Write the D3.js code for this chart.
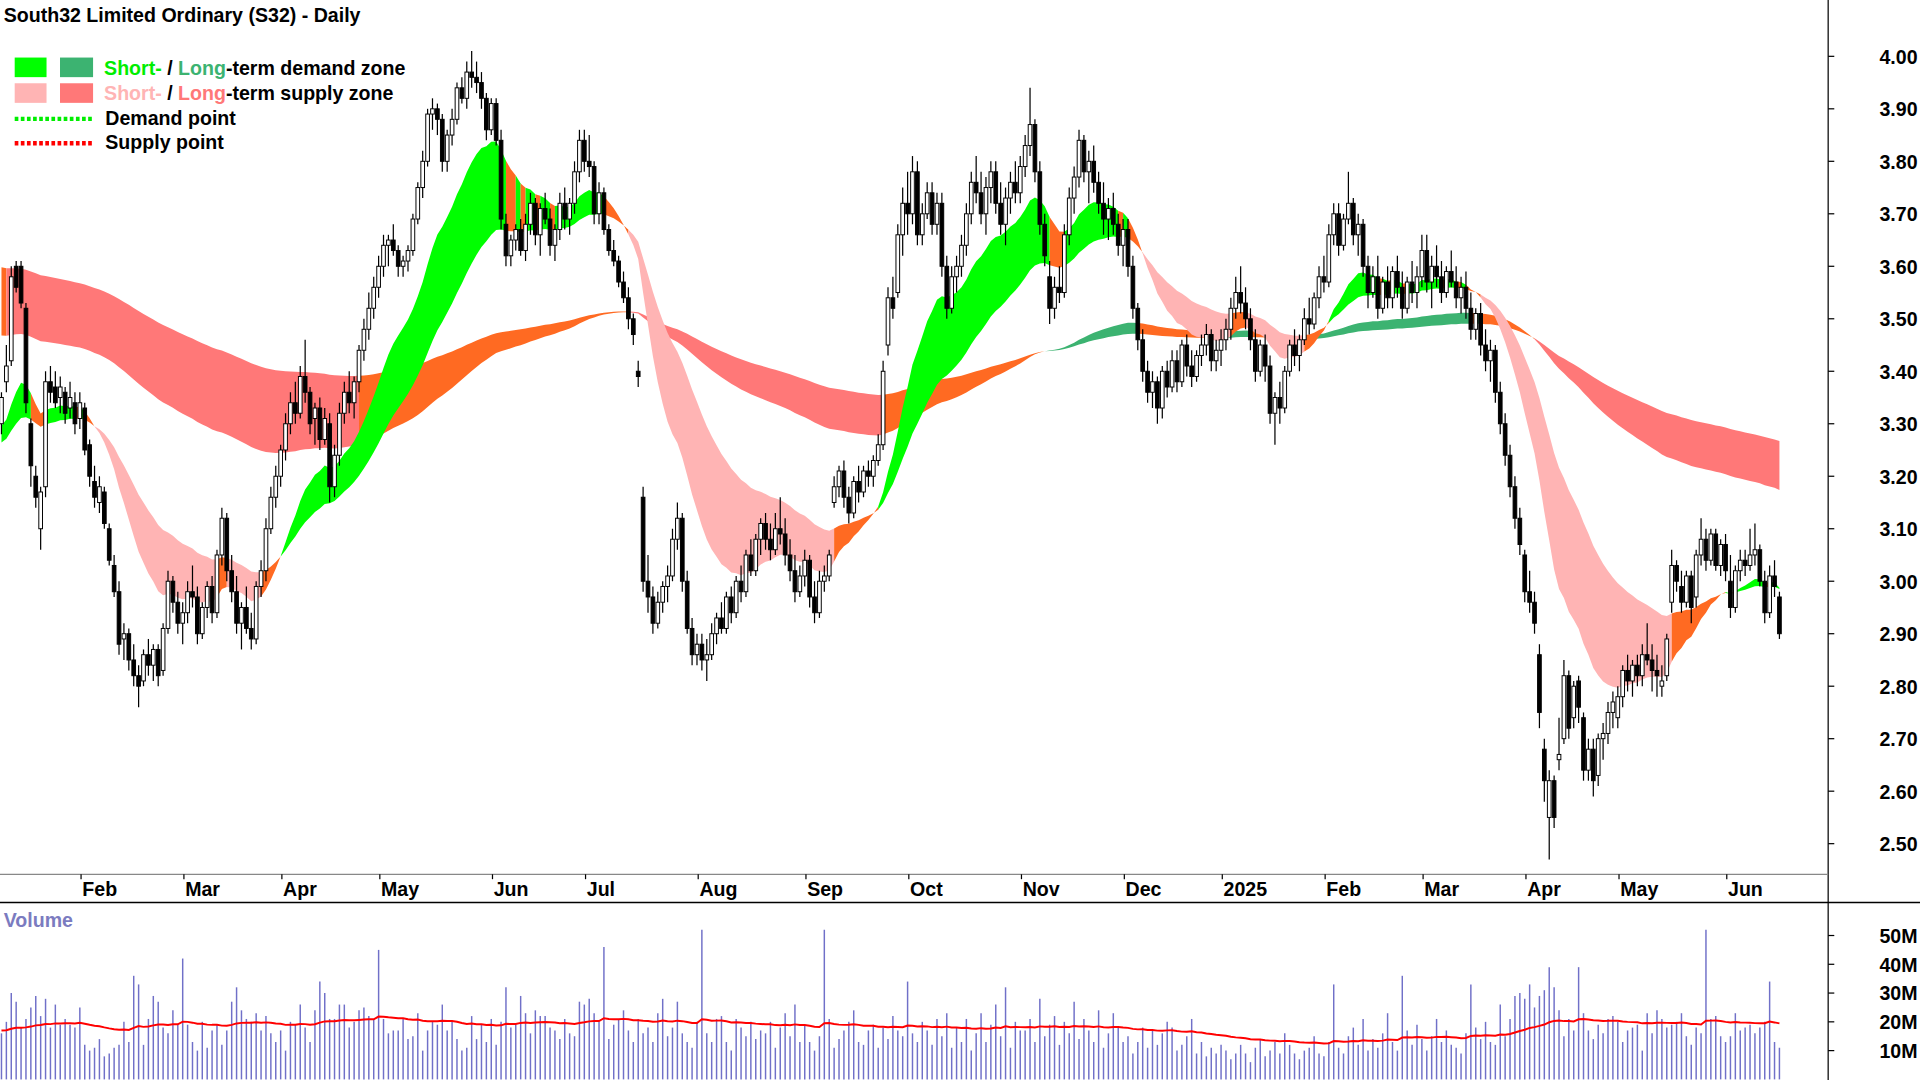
<!DOCTYPE html>
<html><head><meta charset="utf-8">
<script src="https://cdn.jsdelivr.net/npm/d3@7"></script>
<style>body{margin:0;background:#fff}svg{display:block}text{font-family:"Liberation Sans",Arial,sans-serif;font-weight:bold}</style>
</head><body><svg id="chart" width="1920" height="1080" viewBox="0 0 1568 882"></svg>
<script>
// OHLC in cents, one string per trading month
const months = [
  {y:2024,m:0, c:"330 336 328 335|338 345 336 341|342 360 341 358|360 361 355 356|360 361 352 353|352 353 332 334|330 331 318 322|320 322 314 316|310 318 306 317|318 340 316 338|338 341 334 336|337 340 333 334|335 339 332 337|336 337 330 332|333 338 331 335|334 336 328 330|331 336 329 334"},
  {y:2024,m:1, c:"333 334 324 325|326 327 318 320|319 322 314 316|315 320 313 318|317 318 310 311|310 311 303 304|303 305 297 298|298 300 286 288|289 292 285 290|290 291 283 285|285 288 280 282|282 284 276 280|281 287 280 286|286 289 282 284|284 288 281 287|287 288 280 282|283 292 282 291|291 302 290 300|300 301 294 296|296 298 290 292|292 296 288 294"},
  {y:2024,m:2, c:"294 300 292 298|298 303 295 297|297 299 288 290|290 296 289 295|295 300 293 299|299 301 292 294|294 306 293 305|305 314 303 312|312 313 300 302|302 305 296 298|298 301 290 292|292 296 287 295|295 299 290 291|291 294 287 289|289 300 288 299|299 304 297 302|302 312 300 310|310 318 309 316|316 322 314 320|320 326 318 325"},
  {y:2024,m:3, c:"325 332 323 330|330 336 328 334|334 338 330 332|332 341 331 339|339 346 334 336|336 337 328 330|331 334 326 333|333 335 325 327|327 333 326 331|330 332 315 318|318 326 316 324|324 334 322 332|332 338 330 336|336 340 332 334|334 339 331 338|338 345 336 344|344 350 342 348|348 355 346 352|352 358 350 356|356 362 354 360"},
  {y:2024,m:4, c:"360 366 358 364|364 366 360 365|365 368 362 363|363 364 358 360|360 362 358 361|361 364 359 363|363 370 362 369|369 376 368 375|375 382 373 380|380 390 379 389|389 392 386 390|390 391 385 388|388 389 378 380|380 386 378 385|385 390 383 388|388 395 387 394|394 396 391 392|392 399 390 397|397 401 394 396|396 399 393 395|395 397 390 392|392 393 384 386|386 392 385 391"},
  {y:2024,m:5, c:"391 392 383 384|384 386 367 369|368 370 360 362|362 366 360 365|365 368 363 367|367 369 362 363|363 370 361 368|368 374 366 372|372 373 364 366|366 372 362 371|371 374 368 369|369 371 362 364|364 368 361 367|367 374 365 372|372 375 367 369|369 373 366 372|372 380 370 378|378 386 376 384|384 386 378 380"},
  {y:2024,m:6, c:"380 385 377 379|379 380 368 370|370 376 368 374|374 375 366 367|367 368 362 363|363 365 360 361|361 362 356 357|357 359 353 354|354 356 348 350|350 351 345 347|340 342 337 339|316 318 298 300|300 305 294 297|297 299 290 292|292 298 291 296|296 300 294 299|299 303 296 301|301 310 300 308|308 315 306 312|312 313 298 300|300 302 290 291|291 293 284 286|286 290 284 288"},
  {y:2024,m:7, c:"288 290 283 285|285 289 281 286|286 292 285 290|290 294 288 293|293 296 290 291|291 298 290 297|297 299 292 294|294 301 293 300|300 303 296 298|298 306 297 305|305 308 301 302|302 309 301 308|308 312 305 311|311 313 306 308|308 311 304 306|306 313 305 310|310 316 307 309|309 312 303 305|305 308 300 302|302 305 296 298|298 303 297 301|301 306 299 304"},
  {y:2024,m:8, c:"304 305 295 297|297 300 292 294|294 302 293 300|300 303 298 301|301 306 300 305|315 320 314 318|318 322 316 321|321 323 314 316|316 318 311 313|313 320 312 319|319 322 315 317|317 322 316 321|321 323 318 320|320 324 318 323|323 328 322 326|326 342 325 340|345 356 343 354|354 358 350 352|355 368 354 366|366 375 362 372|372 378 366 370"},
  {y:2024,m:9, c:"370 381 368 378|378 380 364 366|366 372 364 370|370 376 369 374|374 376 366 368|368 374 366 372|372 374 358 360|360 362 350 352|352 360 351 358|358 362 355 360|360 366 358 364|364 372 362 370|370 378 368 376|376 381 372 374|374 378 368 370|370 377 366 375|375 380 372 378|378 380 370 372|372 376 366 368|368 375 364 373|373 378 370 376|376 380 372 374|374 381 372 379"},
  {y:2024,m:10, c:"379 385 377 383|383 394 381 387|387 388 376 378|378 380 366 368|368 370 360 362|358 361 349 352|352 358 350 356|356 360 353 355|355 368 354 366|366 375 364 373|373 379 370 377|377 386 375 384|384 385 376 378|378 382 372 380|380 383 374 376|376 378 370 372|372 376 366 369|369 373 365 371|371 374 366 368|368 370 362 364|364 369 360 367"},
  {y:2024,m:11, c:"367 369 358 360|360 362 350 352|352 353 344 346|346 348 338 340|340 342 334 336|336 340 333 338|338 339 330 333|333 341 331 340|340 342 335 337|337 344 336 342|342 344 336 338|338 346 337 345|345 347 339 341|341 344 337 339|339 344 338 343|343 347 341 345|345 349 343 347|347 348 340 342|342 346 340 344|344 348 341 346"},
  {y:2025,m:0, c:"346 350 344 348|348 354 346 352|352 358 350 355|355 360 351 353|353 356 348 350|350 352 344 346|346 348 338 340|340 346 339 345|345 347 338 341|341 343 330 332|332 336 326 335|335 338 330 333|333 341 332 340|340 346 339 345|345 348 341 343|343 347 340 346|346 352 345 350|350 354 347 349|349 355 348 354|354 360 352 358|358 362 355 357"},
  {y:2025,m:1, c:"357 368 356 366|366 372 364 370|370 372 362 364|364 370 363 369|369 378 368 372|372 373 364 366|366 370 362 368|368 369 358 360|360 362 352 355|355 360 354 358|358 362 350 352|352 358 351 357|357 360 352 354|354 360 352 359|359 362 354 356|356 359 350 352|352 358 351 357|357 361 353 355|355 360 352 358|358 366 356 363"},
  {y:2025,m:2, c:"363 366 355 357|357 362 352 360|360 364 356 358|358 361 353 355|355 360 354 359|359 363 356 357|357 360 352 354|354 358 351 356|356 359 350 352|352 355 346 348|348 352 346 351|351 353 343 345|345 348 340 342|342 346 338 344|344 345 334 336|336 338 328 330|330 332 322 324|324 326 316 318|318 320 310 312|312 314 305 307|305 306 296 298"},
  {y:2025,m:3, c:"298 302 294 296|296 298 290 292|286 288 272 275|268 270 258 262|255 264 247 262|262 263 253 255|266 274 264 267|270 285 269 282|282 283 270 272|274 281 272 280|281 282 273 276|274 275 262 264|264 270 262 268|268 270 259 262|263 271 261 270|270 273 266 271|271 277 269 275|275 279 272 277|274 280 272 278"},
  {y:2025,m:4, c:"278 284 276 283|283 286 279 281|281 285 278 284|284 286 280 282|282 288 280 286|286 292 284 285|285 288 279 283|283 286 278 282|280 284 278 281|282 290 281 289|296 306 294 303|303 304 298 300|299 302 294 296|296 302 295 301|301 302 292 295|297 306 295 305|305 312 303 308|308 310 302 304|304 310 303 309|309 310 302 303|303 308 301 307|307 309 300 302"},
  {y:2025,m:5, c:"300 305 293 295|295 303 294 302|302 306 300 304|304 306 301 303|303 310 302 305|305 311 303 306|306 307 299 300|300 302 292 294|294 303 293 301|301 304 297 299|297 298 289 290"}
];
// daily volume in millions, per month
const volumes = [
  [16,20,30,27,18,21,25,29,22,28,18,26,19,21,19,18,25],
  [12,10,11,14,8,9,11,12,20,13,36,33,12,21,29,27,18,16,24,19,42],
  [19,13,10,20,11,17,19,12,17,27,32,24,21,20,23,17,22,16,13,17],
  [10,20,19,26,18,13,24,34,30,21,21,26,26,18,20,24,25,22,21,45],
  [21,16,17,17,21,14,15,23,10,17,20,19,26,17,20,14,10,11,22,14,19,13,21],
  [12,20,32,18,19,29,23,16,24,22,22,18,17,14,21,16,15,27,26],
  [28,23,20,46,14,19,21,24,17,13,21,16,18,13,23,28,15,18,27,16,13,11,20],
  [52,16,13,21,22,13,10,21,18,15,20,14,17,16,20,11,18,23,15,26,13,19],
  [13,10,15,52,21,11,14,17,20,24,13,12,17,19,11,18,14,22,17,15,34],
  [16,13,20,17,12,21,15,23,11,18,13,21,10,16,23,13,19,26,15,32,11,20,17],
  [17,21,13,28,15,19,22,12,20,16,27,14,21,17,13,24,11,16,23,18,13],
  [15,9,13,18,11,17,12,16,20,18,10,12,15,21,9,13,8,11,9,12],
  [10,7,9,12,9,6,11,14,8,10,13,9,16,12,9,7,10,11,15,9,8],
  [13,33,11,9,15,18,12,21,10,14,11,16,23,13,10,36,17,12,19,14],
  [10,15,21,13,17,12,11,9,16,33,18,14,20,13,12,26,15,21,29,30,28],
  [33,25,29,31,39,32,24,15,21,17,39,23,17,14,19,16,21,22,20],
  [13,17,18,19,10,23,16,24,21,18,19,20,23,15,12,18,16,52,21,22,15,13],
  [15,23,17,18,19,16,18,20,34,13,11]
];
const priceTicks = [2.5,2.6,2.7,2.8,2.9,3.0,3.1,3.2,3.3,3.4,3.5,3.6,3.7,3.8,3.9,4.0];
const volTicks = [10,20,30,40,50];
const monthNames = ["Jan","Feb","Mar","Apr","May","Jun","Jul","Aug","Sep","Oct","Nov","Dec"];

// build bars
let bars = [], monthStarts = [];
months.forEach((mo, mi) => {
  monthStarts.push({i: bars.length, label: mo.m === 0 && mo.y === 2025 ? "2025" : monthNames[mo.m], first: mi === 0});
  mo.c.split("|").forEach((s, k) => {
    const [o,h,l,c] = s.split(" ").map(v => +v / 100);
    bars.push({o, h, l, c, v: volumes[mi][k] || 12});
  });
});
const closes = bars.map(d => d.c);

function ema(vals, n, seed) {
  const k = 2 / (n + 1); let e = seed;
  return vals.map(v => e = e + k * (v - e));
}
const sF = ema(closes, 18, 3.29), sS = ema(closes, 40, 3.26);
const lF = ema(closes, 140, 3.47), lS = ema(closes, 240, 3.60);
const vMA = ema(bars.map(d => d.v), 50, 17);

const svg = d3.select("#chart");
const W = 1493;
const x = d3.scaleLinear().domain([0, 1]).range([1.2, 5.2]);
const y = d3.scaleLinear().domain([2.5, 4.0]).range([689, 46]);
const yv = d3.scaleLinear().domain([0, 50]).range([881.5, 764]);

// bands
function bandColor(f, s, i, up, down, mid) {
  const j = Math.max(i - 1, 0);
  const isUp = f[i] > s[i], sRise = s[i] >= s[j];
  if (isUp && sRise) return up;
  if (!isUp && !sRise) return down;
  return mid;
}
function drawBand(f, s, up, down, mid) {
  const cols = bars.map((d, i) => bandColor(f, s, i, up, down, mid));
  const area = d3.area().x(i => x(i)).y0(i => y(f[i])).y1(i => y(s[i]));
  let start = 0;
  for (let i = 1; i <= bars.length; i++) {
    if (i === bars.length || cols[i] !== cols[start]) {
      const idx = d3.range(start, Math.min(i + 1, bars.length));
      svg.append("path").attr("d", area(idx)).attr("fill", cols[start]);
      start = i;
    }
  }
}
drawBand(lF, lS, "#3cb371", "#ff7878", "#ff6a22");
drawBand(sF, sS, "#00ff00", "#ffb4b4", "#ff6a22");

// candles
const cg = svg.append("g");
cg.selectAll("line").data(bars).join("line")
  .attr("x1", (d, i) => x(i)).attr("x2", (d, i) => x(i))
  .attr("y1", d => y(d.h)).attr("y2", d => y(d.l))
  .attr("stroke", "#000").attr("stroke-width", 1);
cg.selectAll("rect").data(bars).join("rect")
  .attr("x", (d, i) => x(i) - 1.5).attr("width", 3)
  .attr("y", d => y(Math.max(d.o, d.c)))
  .attr("height", d => Math.max(0.8, Math.abs(y(d.o) - y(d.c))))
  .attr("fill", d => d.c >= d.o ? "#fff" : "#000")
  .attr("stroke", "#000").attr("stroke-width", 0.8);

// volume
svg.append("g").selectAll("line").data(bars).join("line")
  .attr("x1", (d, i) => x(i)).attr("x2", (d, i) => x(i))
  .attr("y1", yv(0)).attr("y2", d => yv(d.v))
  .attr("stroke", "#7070c8").attr("stroke-width", 1.2);
svg.append("path").datum(vMA)
  .attr("d", d3.line().x((d, i) => x(i)).y(d => yv(d)))
  .attr("fill", "none").attr("stroke", "#ff0000").attr("stroke-width", 1.6);
svg.append("text").attr("x", 3).attr("y", 757).attr("fill", "#7b7bc0").attr("font-size", 16).text("Volume");

// frame
svg.append("line").attr("x1", W).attr("x2", W).attr("y1", 0).attr("y2", 882).attr("stroke", "#000");
svg.append("line").attr("x1", 0).attr("x2", W).attr("y1", 714).attr("y2", 714).attr("stroke", "#888");
svg.append("line").attr("x1", 0).attr("x2", 1568).attr("y1", 737).attr("y2", 737).attr("stroke", "#000").attr("stroke-width", 1.2);

// axes
priceTicks.forEach(p => {
  svg.append("line").attr("x1", W).attr("x2", W + 5).attr("y1", y(p)).attr("y2", y(p)).attr("stroke", "#000");
  svg.append("text").attr("x", 1566).attr("y", y(p) + 6).attr("text-anchor", "end").attr("font-size", 16).text(p.toFixed(2));
});
volTicks.forEach(v => {
  svg.append("line").attr("x1", W).attr("x2", W + 5).attr("y1", yv(v)).attr("y2", yv(v)).attr("stroke", "#000");
  svg.append("text").attr("x", 1566).attr("y", yv(v) + 6).attr("text-anchor", "end").attr("font-size", 16).text(v + "M");
});
monthStarts.filter(m => !m.first).forEach(m => {
  const mx = x(m.i) - 3;
  svg.append("line").attr("x1", mx).attr("x2", mx).attr("y1", 714).attr("y2", 718).attr("stroke", "#000");
  svg.append("text").attr("x", mx + 1).attr("y", 732).attr("font-size", 16).text(m.label);
});

// title & legend
svg.append("text").attr("x", 3).attr("y", 18).attr("font-size", 16).text("South32 Limited Ordinary (S32) - Daily");
const lg = svg.append("g").attr("font-size", 16);
[["#00ff00", "#3cb371", 47], ["#ffb4b4", "#ff7878", 68]].forEach(([a, b, ty]) => {
  lg.append("rect").attr("x", 12).attr("y", ty).attr("width", 26).attr("height", 16).attr("fill", a);
  lg.append("rect").attr("x", 49).attr("y", ty).attr("width", 27).attr("height", 16).attr("fill", b);
});
const t1 = lg.append("text").attr("x", 85).attr("y", 61);
t1.append("tspan").attr("fill", "#00ee00").text("Short-");
t1.append("tspan").attr("fill", "#000").text(" / ");
t1.append("tspan").attr("fill", "#3cb371").text("Long");
t1.append("tspan").attr("fill", "#000").text("-term demand zone");
const t2 = lg.append("text").attr("x", 85).attr("y", 82);
t2.append("tspan").attr("fill", "#ffb4b4").text("Short-");
t2.append("tspan").attr("fill", "#000").text(" / ");
t2.append("tspan").attr("fill", "#ff7878").text("Long");
t2.append("tspan").attr("fill", "#000").text("-term supply zone");
[["#00ee00", 97, "Demand point"], ["#ff0000", 117, "Supply point"]].forEach(([c, ly, t]) => {
  lg.append("line").attr("x1", 12).attr("x2", 76).attr("y1", ly).attr("y2", ly)
    .attr("stroke", c).attr("stroke-width", 3.5).attr("stroke-dasharray", "3,2");
  lg.append("text").attr("x", 86).attr("y", ly + 5).text(t);
});
</script></body></html>
